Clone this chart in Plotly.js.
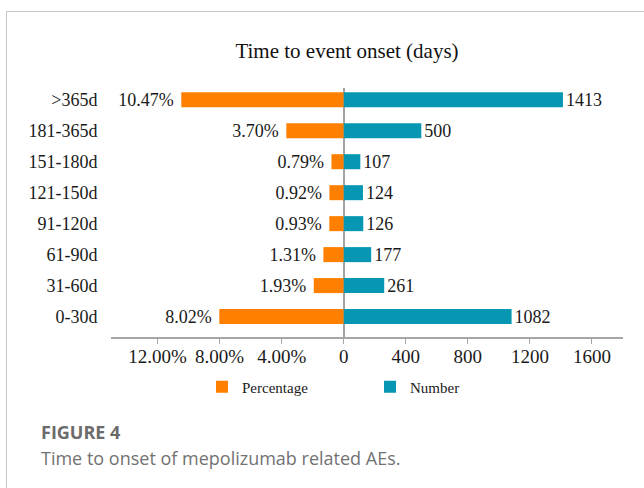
<!DOCTYPE html>
<html>
<head>
<meta charset="utf-8">
<script src="https://cdn.plot.ly/plotly-3.0.1.min.js"></script>
<style>
  html, body { margin: 0; padding: 0; background: #fff; }
  #wrap { position: relative; width: 644px; height: 488px; overflow: hidden; }
  #chart { position: absolute; left: 0; top: 0; width: 644px; height: 488px; }
  #frame { position: absolute; left: 6px; top: 11px; width: 700px; height: 600px;
           border-top: 1px solid #c9c9c9; border-left: 1px solid #c9c9c9; pointer-events: none; }
</style>
</head>
<body>
<div id="wrap">
  <div id="chart"></div>
  <div id="frame"></div>
</div>
<script>
// ---- data (bottom to top) ----
const categories = ['0-30d', '31-60d', '61-90d', '91-120d', '121-150d', '151-180d', '181-365d', '>365d'];
const percentages = [8.02, 1.93, 1.31, 0.93, 0.92, 0.79, 3.70, 10.47];   // %
const numbers = [1082, 261, 177, 126, 124, 107, 500, 1413];
const tickValues = [-12, -8, -4, 0, 400, 800, 1200, 1600];
const tickLabels = ['12.00%', '8.00%', '4.00%', '0', '400', '800', '1200', '1600'];
const seriesNames = ['Percentage', 'Number'];

// 1 percentage point is drawn at the same length as 100 counts
const PCT_SCALE = 100;

const W = 644, H = 488;
const M = { l: 111, r: 21, t: 88, b: 151 };
const PW = W - M.l - M.r, PH = H - M.t - M.b;
const px = x => (x - M.l) / PW;
const py = y => (H - M.b - y) / PH;

const serif = 'Liberation Serif, Times New Roman, serif';

const pctTrace = {
  type: 'bar', orientation: 'h', name: seriesNames[0],
  y: categories,
  x: percentages.map(p => -p * PCT_SCALE),
  text: percentages.map(p => p.toFixed(2) + '%\u00a0'),
  textposition: 'outside', constraintext: 'none', cliponaxis: false,
  textfont: { family: serif, size: 18, color: '#1a1a1a' },
  marker: { color: '#FF7F00' },
  width: 0.485, hoverinfo: 'skip'
};
const numTrace = {
  type: 'bar', orientation: 'h', name: seriesNames[1],
  y: categories,
  x: numbers,
  text: numbers.map(String),
  textposition: 'outside', constraintext: 'none', cliponaxis: false,
  textfont: { family: serif, size: 18, color: '#1a1a1a' },
  marker: { color: '#0797B3' },
  width: 0.485, hoverinfo: 'skip'
};

const layout = {
  width: W, height: H,
  margin: M,
  paper_bgcolor: '#fff', plot_bgcolor: '#fff',
  barmode: 'relative',
  showlegend: true,
  font: { family: serif, color: '#1a1a1a' },
  title: {
    text: 'Time to event onset (days)',
    font: { family: serif, size: 21, color: '#111' },
    xref: 'container', x: 347 / W, xanchor: 'center',
    yref: 'container', y: 1 - 51 / H, yanchor: 'middle'
  },
  xaxis: {
    range: [-1500, 1800],
    tickvals: tickValues.map(v => v < 0 ? v * PCT_SCALE : v),
    ticktext: tickLabels,
    tickfont: { family: serif, size: 19, color: '#1a1a1a' },
    ticks: 'outside', ticklen: 5, tickcolor: '#a6a6a6', tickwidth: 1,
    ticklabelstandoff: -3,
    showline: true, linecolor: '#a6a6a6', linewidth: 1.5,
    showgrid: false,
    zeroline: true, zerolinecolor: '#a3a3a3', zerolinewidth: 2,
    fixedrange: true
  },
  yaxis: {
    type: 'category',
    categoryorder: 'array', categoryarray: categories,
    range: [-0.66, 7.38],
    tickfont: { family: serif, size: 18, color: '#1a1a1a' },
    ticks: 'outside', ticklen: 9, tickcolor: 'rgba(0,0,0,0)',
    showline: false, showgrid: false, zeroline: false,
    fixedrange: true
  },
  legend: {
    orientation: 'h',
    xref: 'paper', x: px(202), xanchor: 'left',
    yref: 'paper', y: py(387), yanchor: 'middle',
    font: { family: serif, size: 15, color: '#1a1a1a' },
    entrywidth: 123, entrywidthmode: 'pixels',
    itemclick: false, itemdoubleclick: false,
    bgcolor: 'rgba(0,0,0,0)'
  },
  annotations: [
    {
      text: '<b>FIGURE 4</b>', xref: 'paper', yref: 'paper',
      x: px(39), y: py(432), xanchor: 'left', yanchor: 'middle', showarrow: false,
      font: { family: 'Open Sans, sans-serif', size: 18, color: '#6b6b6b' }
    },
    {
      text: 'Time to onset of mepolizumab related AEs.', xref: 'paper', yref: 'paper',
      x: px(39), y: py(458), xanchor: 'left', yanchor: 'middle', showarrow: false,
      font: { family: 'Open Sans, sans-serif', size: 18, color: '#727272' }
    }
  ]
};

Plotly.newPlot('chart', [pctTrace, numTrace], layout, { displayModeBar: false, staticPlot: true });
</script>
</body>
</html>
